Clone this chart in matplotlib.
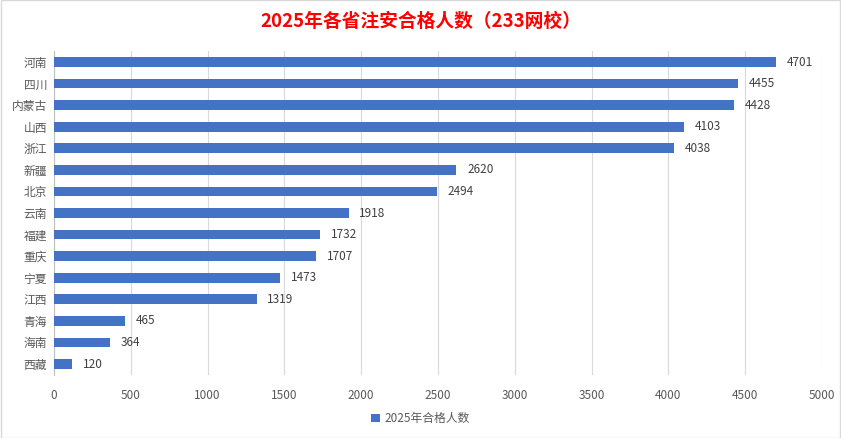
import matplotlib
matplotlib.use("Agg")
import matplotlib.pyplot as plt
from matplotlib.patches import Rectangle

plt.rcParams['font.family'] = ['Noto Sans CJK SC', 'DejaVu Sans']

provinces = ["河南", "四川", "内蒙古", "山西", "浙江", "新疆", "北京", "云南", "福建", "重庆", "宁夏", "江西", "青海", "海南", "西藏"]
counts = [4701, 4455, 4428, 4103, 4038, 2620, 2494, 1918, 1732, 1707, 1473, 1319, 465, 364, 120]
xticks = [0, 500, 1000, 1500, 2000, 2500, 3000, 3500, 4000, 4500, 5000]
title = "2025年各省注安合格人数（233网校）"
series_name = "2025年合格人数"

fig = plt.figure(figsize=(8.41, 4.38), dpi=100)
ax = fig.add_axes([0.0642, 0.1443, 0.9132, 0.7387])

ypos = list(range(len(provinces)))
bars = ax.barh(ypos, counts, height=0.45, color="#4472C4", label=series_name, zorder=3)
ax.set_ylim(len(provinces) - 0.5, -0.5)
ax.set_xlim(0, 5000)
ax.set_yticks(ypos)
ax.set_yticklabels(provinces)
ax.set_xticks(xticks)
ax.set_xticklabels([str(t) for t in xticks])
ax.tick_params(axis='both', length=0, labelsize=8.5, colors="#595959")
ax.tick_params(axis='x', pad=10)
ax.tick_params(axis='y', pad=5)
ax.grid(axis='x', color="#D9D9D9", linewidth=0.8, zorder=0)
for s in ["top", "right", "bottom"]:
    ax.spines[s].set_visible(False)
ax.spines["left"].set_color("#BFBFBF")
ax.spines["left"].set_linewidth(0.8)

for b, v in zip(bars, counts):
    ax.text(b.get_width() + 70, b.get_y() + b.get_height() / 2, str(v),
            va='center', ha='left', fontsize=8.5, color="#404040")

fig.text(0.5, 0.95, title, ha='center', va='center', fontsize=13.5,
         fontweight='bold', color="#FF0000")

leg = fig.legend(handles=[bars], labels=[series_name], loc='center',
                 bbox_to_anchor=(0.5, 0.045), frameon=False, fontsize=8.5,
                 handlelength=0.7, handleheight=0.7, handletextpad=0.4)
for t in leg.get_texts():
    t.set_color("#595959")

fig.patches.append(Rectangle((0.001, 0.001), 0.998, 0.998, transform=fig.transFigure,
                             fill=False, edgecolor="#D9D9D9", linewidth=1))

fig.savefig("out.png", dpi=100)
